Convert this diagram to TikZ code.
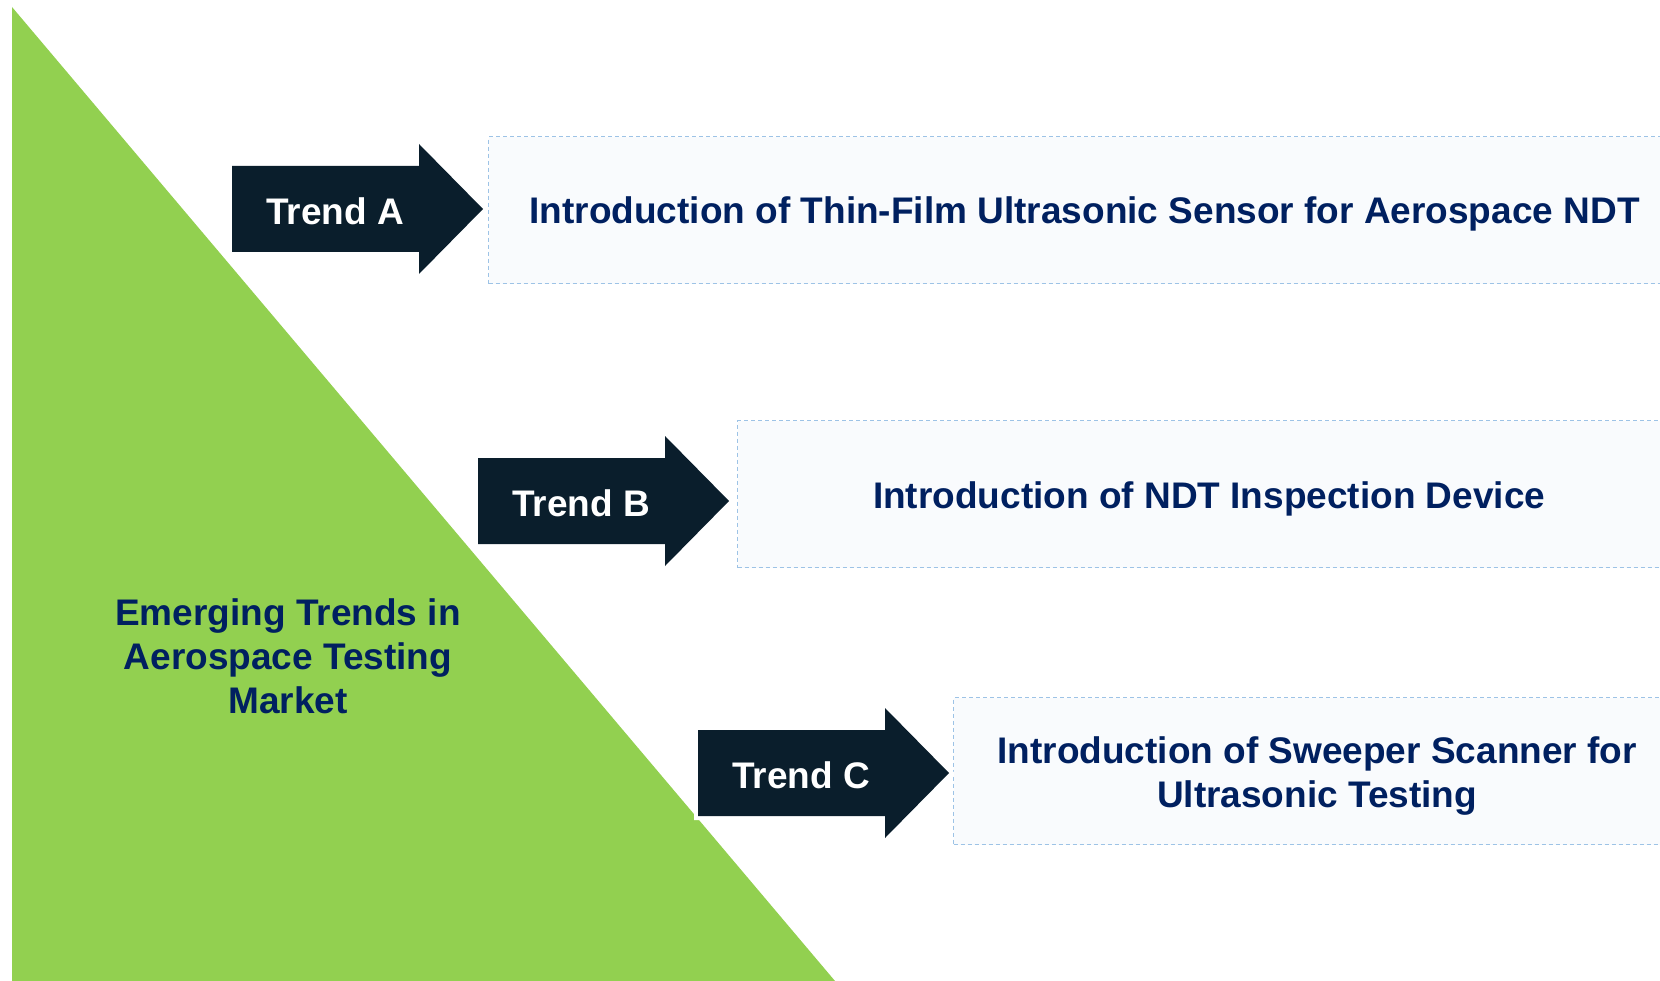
\documentclass[tikz,border=0pt]{standalone}
\usepackage{fontspec}
\setmainfont{Liberation Sans}
\definecolor{leafgreen}{HTML}{92D050}
\definecolor{inkdark}{HTML}{0A1E2C}
\definecolor{navytext}{HTML}{002060}
\definecolor{panelfill}{HTML}{F9FBFD}
\definecolor{paneledge}{HTML}{9DC3E6}
\tikzset{
  infobox/.style={draw=paneledge, line width=1.2pt, dash pattern=on 4pt off 3pt,
    fill=panelfill, minimum height=147pt, anchor=north west, inner sep=0pt},
  paneltext/.style={align=center, text=navytext, inner sep=0pt,
    font=\fontsize{37}{44}\selectfont\bfseries},
  trendlabel/.style={text=white, inner sep=0pt, font=\fontsize{37}{44}\selectfont\bfseries},
  titlelabel/.style={text=navytext, align=center, inner sep=0pt,
    font=\fontsize{37}{44}\selectfont\bfseries},
  arrowbody/.style={fill=inkdark},
  arrowhalo/.style={draw=white, line width=8pt, line join=miter}
}
% block arrow: #1 = left edge, #2 = centre line, #3 = node name, #4 = label
\newcommand{\trendarrow}[4]{%
  \path[arrowhalo] (#1,#2-43) -- (#1+187,#2-43) -- (#1+187,#2-65) -- (#1+251,#2)
    -- (#1+187,#2+65) -- (#1+187,#2+43) -- (#1,#2+43) -- cycle;
  \path[arrowbody] (#1,#2-43) -- (#1+187,#2-43) -- (#1+187,#2-65) -- (#1+251,#2)
    -- (#1+187,#2+65) -- (#1+187,#2+43) -- (#1,#2+43) -- cycle;
  \node[trendlabel] (#3) at (#1+103,#2+2) {#4};
}
\begin{document}
\begin{tikzpicture}[x=1pt,y=-1pt]
\useasboundingbox (0,0) rectangle (1660,981);
\clip (0,0) rectangle (1660,981);
\fill[white] (0,0) rectangle (1660,981);

% green wedge with the market title
\fill[leafgreen] (12,7) -- (835,981) -- (12,981) -- cycle;
\node[titlelabel] (market) at (288,656)
  {Emerging Trends in\\Aerospace Testing\\Market};

% description panels
\node[infobox, minimum width=1192pt] (boxA) at (488,136) {};
\node[infobox, minimum width=943pt] (boxB) at (737,420) {};
\node[infobox, minimum width=727pt] (boxC) at (953,697) {};
\node[paneltext] (textA) at ([yshift=-4pt]boxA.center)
  {Introduction of Thin-Film Ultrasonic Sensor for Aerospace NDT};
\node[paneltext] (textB) at ([yshift=-5pt]boxB.center)
  {Introduction of NDT Inspection Device};
\node[paneltext] (textC) at ([yshift=-5pt]boxC.center)
  {Introduction of Sweeper Scanner for\\Ultrasonic Testing};

% trend arrows
\trendarrow{232}{209}{trendA}{Trend A}
\trendarrow{478}{501}{trendB}{Trend B}
\trendarrow{698}{773}{trendC}{Trend C}
\end{tikzpicture}
\end{document}
